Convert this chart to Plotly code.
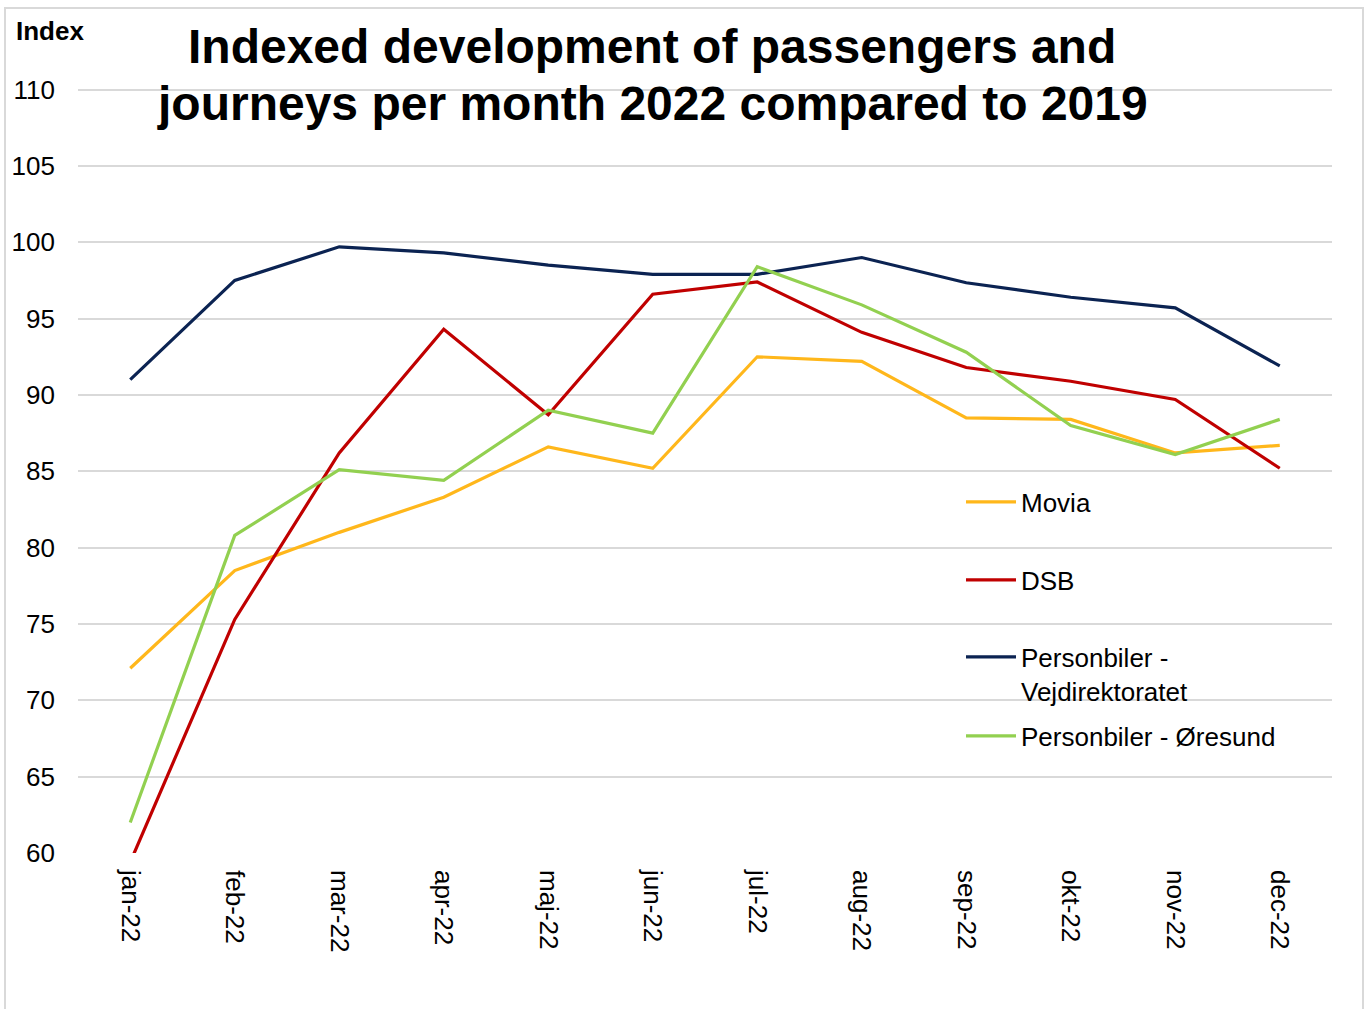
import plotly.graph_objects as go

months = ["jan-22", "feb-22", "mar-22", "apr-22", "maj-22", "jun-22",
          "jul-22", "aug-22", "sep-22", "okt-22", "nov-22", "dec-22"]

movia = [72.1, 78.5, 81.0, 83.3, 86.6, 85.2, 92.5, 92.2, 88.5, 88.4, 86.2, 86.7]
dsb = [59.4, 75.3, 86.2, 94.3, 88.7, 96.6, 97.4, 94.1, 91.8, 90.9, 89.7, 85.2]
vejdirektoratet = [91.0, 97.5, 99.7, 99.3, 98.5, 97.9, 97.9, 99.0, 97.35, 96.4, 95.7, 91.9]
oresund = [62.0, 80.8, 85.1, 84.4, 89.0, 87.5, 98.4, 95.9, 92.8, 88.0, 86.1, 88.4]

series = [
    ("Movia", movia, "#FFB71B", "legend", 502),
    ("DSB", dsb, "#C00000", "legend2", 580),
    ("Personbiler -<br>Vejdirektoratet", vejdirektoratet, "#0B2352", "legend3", 674),
    ("Personbiler - Øresund", oresund, "#92D050", "legend4", 736),
]

FONT = "Liberation Sans, Arial, sans-serif"

# Plot area geometry (pixels)
TOP, BOTTOM, LEFT, RIGHT = 85, 853, 78, 1332
PH, PW = BOTTOM - TOP, RIGHT - LEFT


def py(pix):
    return (BOTTOM - pix) / PH


def px(pix):
    return (pix - LEFT) / PW


fig = go.Figure()
legends = {}
for name, vals, color, leg, ypix in series:
    fig.add_trace(go.Scatter(
        x=months, y=vals, name=name, mode="lines",
        line=dict(color=color, width=3.2),
        legend=leg,
    ))
    legends[leg] = dict(
        x=px(961), y=py(ypix), xanchor="left", yanchor="middle",
        bgcolor="rgba(0,0,0,0)", borderwidth=0,
        font=dict(family=FONT, size=26, color="#000000"),
        valign="top", itemwidth=50,
    )

fig.update_layout(
    width=1370, height=1009,
    margin=dict(l=LEFT, r=1370 - RIGHT, t=TOP, b=1009 - BOTTOM),
    paper_bgcolor="white", plot_bgcolor="white",
    font=dict(family=FONT, size=26, color="#000000"),
    showlegend=True,
    **legends,
)

fig.update_xaxes(
    type="category", range=[-0.5, 11.5], tickangle=90,
    showgrid=False, showline=False, ticks="", ticklabelstandoff=16,
    tickfont=dict(family=FONT, size=26, color="#000000"),
)
fig.update_yaxes(
    range=[60, 110.3], tickvals=[60, 65, 70, 75, 80, 85, 90, 95, 100, 105, 110],
    showgrid=True, gridcolor="#D9D9D9", gridwidth=1.5,
    zeroline=False, showline=False, ticks="", ticklabelstandoff=22,
    tickfont=dict(family=FONT, size=26, color="#000000"),
)

# Chart frame
fig.add_shape(
    type="rect", xref="paper", yref="paper",
    x0=px(5), x1=px(1363), y0=py(1015), y1=py(8),
    line=dict(color="#D9D9D9", width=2), fillcolor="rgba(0,0,0,0)",
    layer="below",
)

# Title lines and axis caption
fig.add_annotation(
    text="<b>Indexed development of passengers and</b>",
    xref="paper", yref="paper", x=px(652), y=py(47),
    xanchor="center", yanchor="middle", showarrow=False,
    font=dict(family=FONT, size=48, color="#000000"),
)
fig.add_annotation(
    text="<b>journeys per month 2022 compared to 2019</b>",
    xref="paper", yref="paper", x=px(652), y=py(103),
    xanchor="center", yanchor="middle", showarrow=False,
    font=dict(family=FONT, size=48, color="#000000"),
)
fig.add_annotation(
    text="<b>Index</b>",
    xref="paper", yref="paper", x=px(14), y=py(31),
    xanchor="left", yanchor="middle", showarrow=False,
    font=dict(family=FONT, size=26, color="#000000"),
)

fig.write_html("out.html")
